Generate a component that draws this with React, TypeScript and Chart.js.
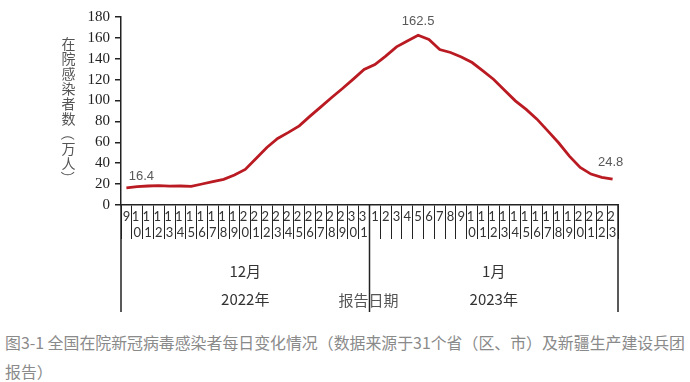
import React, { useEffect, useRef } from "react";
import { Chart, registerables } from "chart.js";

Chart.register(...registerables);

// Categories: report dates (Dec 9 2022 – Jan 23 2023)
const decDays = ["9","10","11","12","13","14","15","16","17","18","19","20","21","22","23","24","25","26","27","28","29","30","31"];
const janDays = ["1","2","3","4","5","6","7","8","9","10","11","12","13","14","15","16","17","18","19","20","21","22","23"];
const dayLabels = [...decDays, ...janDays];

// In-hospital infected (10k people)
const decValues = [16.4, 17.5, 18.2, 18.5, 18.1, 18.2, 17.8, 20.1, 22.3, 24.6, 28.7, 34.1, 44.6, 55.1, 63.7, 69.5, 75.8, 85.1, 94.0, 102.9, 111.5, 120.5, 129.7];
const janValues = [134.5, 142.5, 151.4, 157.1, 162.5, 158.4, 148.8, 146.0, 141.8, 136.4, 128.4, 120.2, 109.9, 99.7, 91.5, 82.2, 71.0, 59.6, 46.8, 36.0, 29.6, 26.5, 24.8];
const values = [...decValues, ...janValues];

// Annotated points (index into values)
const annotatedIdx = [0, 27, 45];

const yTicksMax = 180;
const yTicksStep = 20;
const yTitleChars = ["在", "院", "感", "染", "者", "数", "（", "万", "人", "）"];
const monthLabels = ["12月", "1月"];
const yearLabels = ["2022年", "2023年"];
const axisTitle = "报告日期";
const captionLine1 = "图3-1 全国在院新冠病毒感染者每日变化情况（数据来源于31个省（区、市）及新疆生产建设兵团";
const captionLine2 = "报告）";

const LINE_COLOR = "#BA1A22";
const AXIS_COLOR = "#222222";

const overlayPlugin = {
  id: "overlay",
  afterDraw(chart: any) {
    const ctx = chart.ctx;
    const area = chart.chartArea;
    const xs = chart.scales.x;
    const meta = chart.getDatasetMeta(0);
    ctx.save();

    // Y title, stacked vertically
    ctx.fillStyle = "#555555";
    ctx.font = '14px "Noto Sans CJK SC"';
    ctx.textAlign = "center";
    ctx.textBaseline = "middle";
    yTitleChars.forEach((ch, i) => {
      const cy = 44 + i * 14.9;
      if (ch === "（" || ch === "）") {
        ctx.save();
        ctx.translate(68.5, cy);
        ctx.rotate(Math.PI / 2);
        ctx.fillText(ch, 0, 0);
        ctx.restore();
      } else {
        ctx.fillText(ch, 68.5, cy);
      }
    });

    // group separators
    const nDec = decDays.length;
    const mid = (xs.getPixelForTick(nDec - 1) + xs.getPixelForTick(nDec)) / 2;
    const left = area.left;
    const right = area.right;
    const bottomY = 312;
    ctx.strokeStyle = AXIS_COLOR;
    ctx.lineWidth = 1.5;
    [left, mid, right].forEach((x) => {
      ctx.beginPath();
      ctx.moveTo(x, area.bottom);
      ctx.lineTo(x, bottomY);
      ctx.stroke();
    });

    // month & year labels
    ctx.fillStyle = "#333333";
    ctx.font = '15px "Noto Sans CJK SC"';
    const c1 = (left + mid) / 2;
    const c2 = (mid + right) / 2;
    ctx.fillText(monthLabels[0], c1, 271);
    ctx.fillText(monthLabels[1], c2, 271);
    ctx.fillText(yearLabels[0], c1, 299);
    ctx.fillText(yearLabels[1], c2, 299);
    ctx.fillStyle = "#555555";
    ctx.fillText(axisTitle, mid - 1, 300);

    // data labels
    ctx.font = '13px "Liberation Sans"';
    ctx.fillStyle = "#595959";
    annotatedIdx.forEach((idx, k) => {
      const el = meta.data[idx];
      if (!el) return;
      const text = String(values[idx]);
      if (k === 0) {
        ctx.fillText(text, el.x + 15, el.y - 11);
      } else if (k === 1) {
        ctx.fillText(text, el.x, el.y - 14);
      } else {
        ctx.fillText(text, el.x - 2, el.y - 17);
      }
    });
    ctx.restore();
  },
};

export default function App() {
  const canvasRef = useRef<HTMLCanvasElement | null>(null);

  useEffect(() => {
    if (!canvasRef.current) return;
    const chart = new Chart(canvasRef.current, {
      type: "line",
      data: {
        labels: dayLabels,
        datasets: [
          {
            data: values,
            borderColor: LINE_COLOR,
            borderWidth: 2.8,
            pointRadius: 0,
            tension: 0,
            fill: false,
          },
        ],
      },
      options: {
        responsive: false,
        animation: false,
        devicePixelRatio: 1,
        layout: { padding: { left: 0, right: 72, top: 17, bottom: 0 } },
        plugins: {
          legend: { display: false },
          tooltip: { enabled: false },
          title: { display: false },
        },
        scales: {
          x: {
            type: "category",
            offset: true,
            grid: {
              display: true,
              offset: true,
              drawOnChartArea: false,
              drawTicks: true,
              tickLength: 34,
              color: AXIS_COLOR,
              lineWidth: 1,
            },
            border: { display: true, color: AXIS_COLOR, width: 1.5 },
            ticks: {
              autoSkip: false,
              maxRotation: 0,
              minRotation: 0,
              padding: -30,
              color: "#333333",
              font: { family: "Lato", size: 13 },
              callback: function (_v: any, i: number) {
                const s = dayLabels[i];
                return s.length > 1 ? [s[0] + " ", s[1]] : s;
              },
            },
            afterFit: (s: any) => {
              s.height = 115;
            },
          },
          y: {
            min: 0,
            max: yTicksMax,
            ticks: {
              stepSize: yTicksStep,
              autoSkip: false,
              padding: 5,
              color: "#222222",
              font: { family: "Liberation Serif", size: 15 },
            },
            grid: {
              drawOnChartArea: false,
              drawTicks: true,
              tickLength: 6,
              color: AXIS_COLOR,
              lineWidth: 1.5,
            },
            border: { display: true, color: AXIS_COLOR, width: 1.5 },
            afterFit: (s: any) => {
              s.width = 121;
            },
          },
        },
      },
      plugins: [overlayPlugin],
    });
    return () => chart.destroy();
  }, []);

  return (
    <div style={{ position: "absolute", left: 0, top: 0, width: 690, height: 382, background: "#fff", overflow: "hidden" }}>
      <canvas ref={canvasRef} width={690} height={320} style={{ display: "block", width: 690, height: 320 }} />
      <div
        style={{
          position: "absolute",
          left: 5,
          top: 328,
          fontFamily: '"Noto Sans CJK SC", sans-serif',
          fontSize: 15.9,
          lineHeight: "29px",
          color: "#8a8a8a",
          whiteSpace: "nowrap",
        }}
      >
        {captionLine1}
        <br />
        {captionLine2}
      </div>
    </div>
  );
}
